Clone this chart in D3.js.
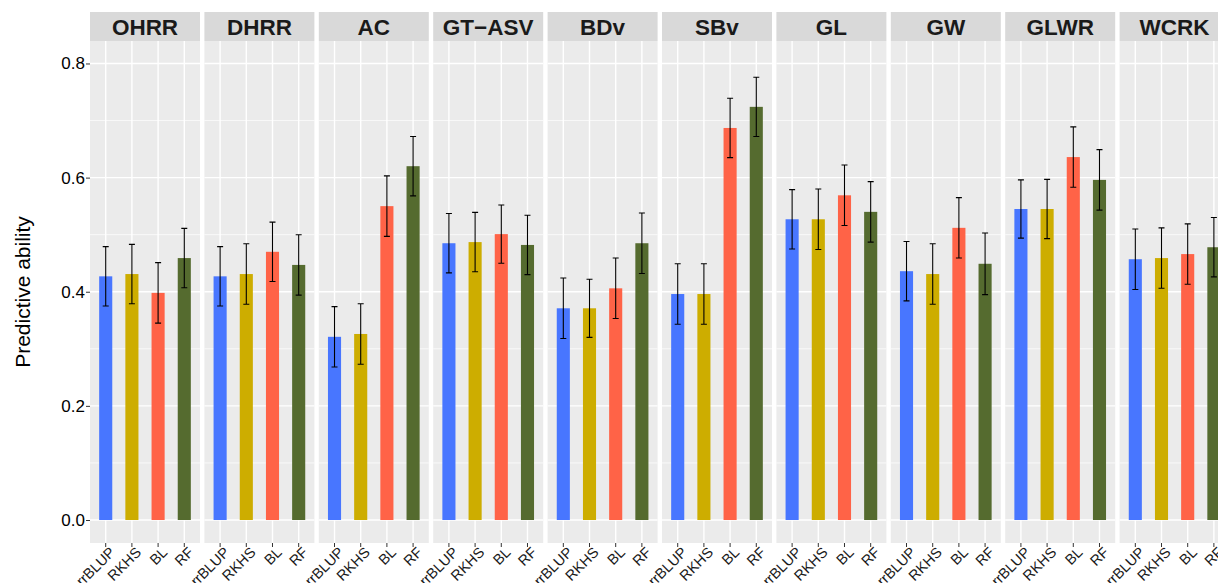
<!DOCTYPE html>
<html>
<head>
<meta charset="utf-8">
<script src="https://cdn.jsdelivr.net/npm/d3@7"></script>
<style>
  body { margin: 0; background: #fff; }
  svg { display: block; font-family: "Liberation Sans", Arial, Helvetica, sans-serif; }
</style>
</head>
<body>
<div id="chart"></div>
<script>
// traits (facets) and models (bars in each facet)
var traits = ["OHRR", "DHRR", "AC", "GT\u2212ASV", "BDv", "SBv", "GL", "GW", "GLWR", "WCRK"];
var models = ["rrBLUP", "RKHS", "BL", "RF"];

// mean predictive ability, one row per trait, in model order
var rrBLUP = [0.427, 0.427, 0.321, 0.485, 0.371, 0.396, 0.527, 0.436, 0.545, 0.457];
var RKHS   = [0.431, 0.431, 0.326, 0.487, 0.371, 0.396, 0.527, 0.431, 0.545, 0.459];
var BL     = [0.398, 0.470, 0.550, 0.501, 0.406, 0.687, 0.569, 0.512, 0.636, 0.466];
var RF     = [0.459, 0.447, 0.620, 0.482, 0.485, 0.724, 0.540, 0.449, 0.596, 0.478];

// error bar half widths
var errRrBLUP = [0.052, 0.052, 0.053, 0.052, 0.053, 0.053, 0.052, 0.052, 0.051, 0.053];
var errRKHS   = [0.052, 0.053, 0.053, 0.052, 0.051, 0.053, 0.053, 0.053, 0.052, 0.053];
var errBL     = [0.053, 0.052, 0.053, 0.051, 0.053, 0.052, 0.053, 0.053, 0.053, 0.053];
var errRF     = [0.052, 0.053, 0.052, 0.052, 0.053, 0.052, 0.053, 0.054, 0.053, 0.052];

var yTicks = [0.0, 0.2, 0.4, 0.6, 0.8];
var yMinor = [0.1, 0.3, 0.5, 0.7];
var colors = ["#4876FF", "#CDAD00", "#FF6347", "#556B2F"];

var vals = [rrBLUP, RKHS, BL, RF];
var errs = [errRrBLUP, errRKHS, errBL, errRF];

var data = [];
traits.forEach(function(t, i) {
    models.forEach(function(m, j) {
        data.push({trait: t, model: m, value: vals[j][i], err: errs[j][i]});
    });
});

var width = 1218, height = 583;
var panelTop = 41, panelBottom = 543, stripTop = 12;
var gap = 4.4, step = 114.4, left = 90;

var svg = d3.select("#chart").append("svg")
    .attr("width", width)
    .attr("height", height);

// facets
var fx = d3.scaleBand()
    .domain(traits)
    .range([left, left + traits.length * step - gap])
    .paddingInner(gap / step)
    .paddingOuter(0);

// bars inside a facet
var x = d3.scaleBand()
    .domain(models)
    .range([0, fx.bandwidth()])
    .paddingInner(0)
    .paddingOuter(0.1);

var y = d3.scaleLinear()
    .domain([-0.0403, 0.8394])
    .range([panelBottom, panelTop]);

var color = d3.scaleOrdinal().domain(models).range(colors);

var panels = svg.selectAll(".panel")
    .data(traits)
    .enter()
    .append("g")
    .attr("class", "panel")
    .attr("transform", function(d) { return "translate(" + fx(d) + ",0)"; });

// panel background
panels.append("rect")
    .attr("x", 0)
    .attr("y", panelTop)
    .attr("width", fx.bandwidth())
    .attr("height", panelBottom - panelTop)
    .attr("fill", "#EBEBEB");

// minor grid
panels.selectAll(".minor")
    .data(yMinor)
    .enter()
    .append("line")
    .attr("x1", 0)
    .attr("x2", fx.bandwidth())
    .attr("y1", function(d) { return y(d); })
    .attr("y2", function(d) { return y(d); })
    .attr("stroke", "#fff")
    .attr("stroke-width", 0.7);

// major grid
panels.selectAll(".major")
    .data(yTicks)
    .enter()
    .append("line")
    .attr("x1", 0)
    .attr("x2", fx.bandwidth())
    .attr("y1", function(d) { return y(d); })
    .attr("y2", function(d) { return y(d); })
    .attr("stroke", "#fff")
    .attr("stroke-width", 1.4);

panels.selectAll(".vgrid")
    .data(models)
    .enter()
    .append("line")
    .attr("x1", function(d) { return x(d) + x.bandwidth() / 2; })
    .attr("x2", function(d) { return x(d) + x.bandwidth() / 2; })
    .attr("y1", panelTop)
    .attr("y2", panelBottom)
    .attr("stroke", "#fff")
    .attr("stroke-width", 1.4);

// strips
panels.append("rect")
    .attr("x", 0)
    .attr("y", stripTop)
    .attr("width", fx.bandwidth())
    .attr("height", panelTop - stripTop)
    .attr("fill", "#D9D9D9");

panels.append("text")
    .attr("x", fx.bandwidth() / 2)
    .attr("y", 34.5)
    .attr("text-anchor", "middle")
    .style("font-size", "22.5px")
    .style("font-weight", "bold")
    .attr("fill", "#1A1A1A")
    .text(function(d) { return d; });

// bars
var barW = x.step() * 0.5;
panels.selectAll(".bar")
    .data(function(t) { return data.filter(function(d) { return d.trait == t; }); })
    .enter()
    .append("rect")
    .attr("x", function(d) { return x(d.model) + x.bandwidth() / 2 - barW / 2; })
    .attr("width", barW)
    .attr("y", function(d) { return y(d.value); })
    .attr("height", function(d) { return y(0) - y(d.value); })
    .attr("fill", function(d) { return color(d.model); });

// error bars
var capW = 6;
var eb = panels.selectAll(".err")
    .data(function(t) { return data.filter(function(d) { return d.trait == t; }); })
    .enter()
    .append("g")
    .attr("transform", function(d) { return "translate(" + (x(d.model) + x.bandwidth() / 2) + ",0)"; });

eb.append("path")
    .attr("d", function(d) {
        var lo = y(d.value - d.err), hi = y(d.value + d.err);
        return "M" + (-capW / 2) + "," + hi + "H" + (capW / 2) +
               "M0," + hi + "V" + lo +
               "M" + (-capW / 2) + "," + lo + "H" + (capW / 2);
    })
    .attr("fill", "none")
    .attr("stroke", "#000")
    .attr("stroke-width", 1.1);

// x axis per panel
panels.each(function() {
    var g = d3.select(this).append("g")
        .attr("transform", "translate(0," + panelBottom + ")")
        .call(d3.axisBottom(x).tickSize(4).tickSizeOuter(0));
    g.select(".domain").remove();
    g.selectAll(".tick line").attr("stroke", "#333");
    g.selectAll(".tick text")
        .attr("fill", "#1A1A1A")
        .style("font-size", "14.5px")
        .attr("text-anchor", "end")
        .attr("transform", "translate(3,3) rotate(-45)")
        .attr("dy", "0.7em")
        .attr("y", 0)
        .attr("x", 0);
});

// y axis
var yAxis = svg.append("g")
    .attr("transform", "translate(" + left + ",0)")
    .call(d3.axisLeft(y).tickValues(yTicks).tickFormat(d3.format(".1f")).tickSize(4));
yAxis.select(".domain").remove();
yAxis.selectAll(".tick line").attr("stroke", "#333");
yAxis.selectAll(".tick text")
    .attr("fill", "#000")
    .style("font-size", "17px")
    .attr("x", -5);

svg.append("text")
    .attr("transform", "translate(30," + ((panelTop + panelBottom) / 2) + ") rotate(-90)")
    .attr("text-anchor", "middle")
    .style("font-size", "21px")
    .attr("fill", "#000")
    .text("Predictive ability");
</script>
</body>
</html>
